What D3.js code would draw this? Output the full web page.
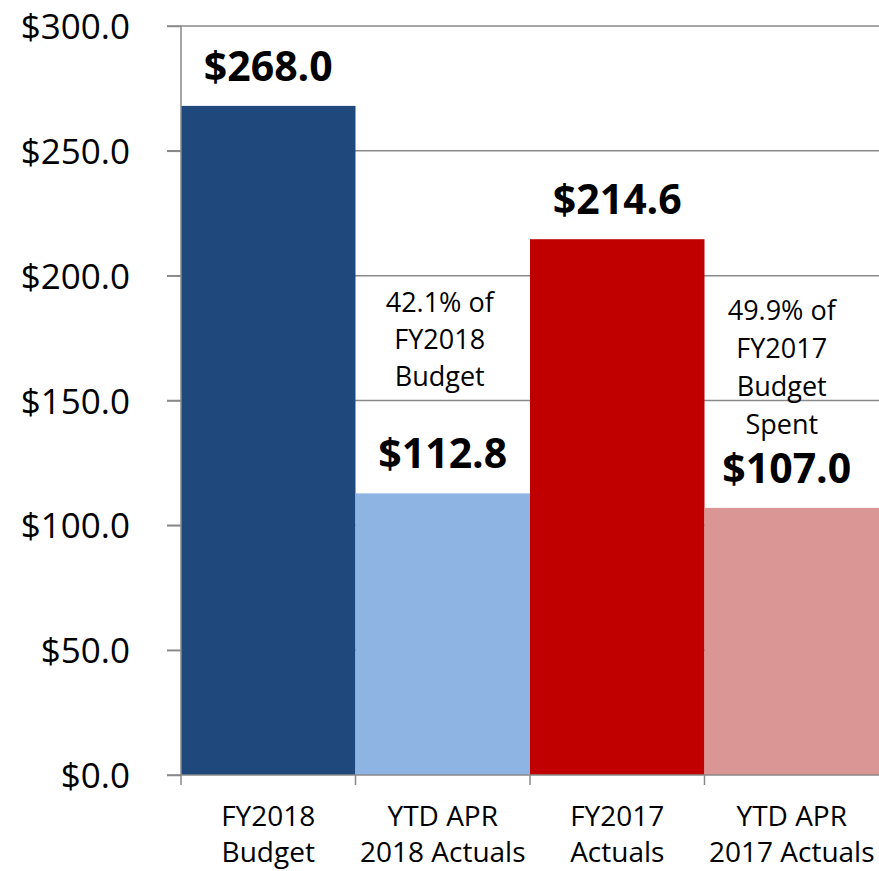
<!DOCTYPE html>
<html>
<head>
<meta charset="utf-8">
<script src="https://cdn.jsdelivr.net/npm/d3@7"></script>
<style>
  body { margin: 0; background: #fff; }
  text { font-family: "Open Sans", "Noto Sans", sans-serif; fill: #000; }
</style>
</head>
<body>
<div id="chart"></div>
<script>
// chart data
var categories = ["FY2018 Budget", "YTD APR 2018 Actuals", "FY2017 Actuals", "YTD APR 2017 Actuals"];
var categoryLines = [["FY2018", "Budget"], ["YTD APR", "2018 Actuals"], ["FY2017", "Actuals"], ["YTD APR", "2017 Actuals"]];
var values = [268.0, 112.8, 214.6, 107.0];
var barColors = ["#1f497d", "#8eb4e3", "#c00000", "#d99694"];
var yTicks = [0, 50, 100, 150, 200, 250, 300];
var noteCategories = ["YTD APR 2018 Actuals", "YTD APR 2017 Actuals"];
var noteLines = [["42.1% of", "FY2018", "Budget"], ["49.9% of", "FY2017", "Budget", "Spent"]];

(function() {

    var W = 879, H = 871;
    var margin = { top: 26, right: 0, bottom: 96, left: 181 };

    var svg = d3.select("#chart")
        .append("svg")
        .attr("width", W)
        .attr("height", H);

    var x = d3.scaleBand()
        .domain(categories)
        .range([margin.left, W - margin.right])
        .padding(0);

    var y = d3.scaleLinear()
        .domain([0, 300])
        .range([H - margin.bottom, margin.top]);

    var money = function(v) { return "$" + d3.format(".1f")(v); };
    var gridColor = "#898989";

    // gridlines (behind bars)
    svg.append("g")
        .selectAll("line")
        .data(yTicks.filter(function(d) { return d > 0; }))
        .enter().append("line")
        .attr("x1", margin.left - 14)
        .attr("x2", W)
        .attr("y1", function(d) { return y(d); })
        .attr("y2", function(d) { return y(d); })
        .attr("stroke", gridColor)
        .attr("stroke-width", 1.5);

    // bars
    svg.append("g")
        .selectAll("rect")
        .data(values)
        .enter().append("rect")
        .attr("x", function(d, i) { return x(categories[i]); })
        .attr("y", function(d) { return y(d); })
        .attr("width", x.bandwidth())
        .attr("height", function(d) { return y(0) - y(d); })
        .attr("fill", function(d, i) { return barColors[i]; });

    // y axis
    var yAxis = svg.append("g")
        .attr("transform", "translate(" + margin.left + ",0)")
        .call(d3.axisLeft(y).tickValues(yTicks).tickSize(14).tickPadding(37)
            .tickFormat(money));
    yAxis.select(".domain").remove();
    yAxis.selectAll(".tick line").attr("stroke", gridColor).attr("stroke-width", 1.5);
    yAxis.selectAll(".tick text")
        .style("font-family", "'Open Sans', sans-serif")
        .style("font-size", "35px")
        .attr("fill", "#000")
        .attr("dy", "0.36em");
    yAxis.append("line")
        .attr("x1", 0).attr("x2", 0)
        .attr("y1", y(300)).attr("y2", y(0))
        .attr("stroke", gridColor).attr("stroke-width", 1.5);

    // x axis
    var xAxis = svg.append("g")
        .attr("transform", "translate(0," + y(0) + ")")
        .call(d3.axisBottom(x).tickSize(0).tickFormat(""));
    xAxis.select(".domain").remove();
    xAxis.append("line")
        .attr("x1", margin.left - 14).attr("x2", W)
        .attr("stroke", gridColor).attr("stroke-width", 1.5);
    xAxis.selectAll(".sep")
        .data(categories)
        .enter().append("line")
        .attr("class", "sep")
        .attr("x1", function(d) { return x(d); })
        .attr("x2", function(d) { return x(d); })
        .attr("y1", 0).attr("y2", 10)
        .attr("stroke", gridColor).attr("stroke-width", 1.5);

    // category labels
    svg.append("g")
        .selectAll("text")
        .data(categories)
        .enter().append("text")
        .attr("text-anchor", "middle")
        .style("font-size", "28px")
        .each(function(d, i) {
            var t = d3.select(this);
            categoryLines[i].forEach(function(line, j) {
                t.append("tspan")
                    .attr("x", x(d) + x.bandwidth() / 2)
                    .attr("y", y(0) + 51 + j * 36)
                    .text(line);
            });
        });

    // value labels
    svg.append("g")
        .selectAll("text")
        .data(values)
        .enter().append("text")
        .attr("text-anchor", "middle")
        .attr("x", function(d, i) { return x(categories[i]) + x.bandwidth() / 2 - (i == 3 ? 5 : 0); })
        .attr("y", function(d) { return y(d) - 25; })
        .style("font-size", "41px")
        .style("font-weight", "bold")
        .text(money);

    // notes
    var noteTop = [312, 320], noteDx = [-3, -10], noteGap = [37, 38];
    svg.append("g")
        .selectAll("text")
        .data(noteCategories)
        .enter().append("text")
        .attr("text-anchor", "middle")
        .style("font-size", "27px")
        .each(function(d, i) {
            var t = d3.select(this);
            noteLines[i].forEach(function(line, j) {
                t.append("tspan")
                    .attr("x", x(d) + x.bandwidth() / 2 + noteDx[i])
                    .attr("y", noteTop[i] + j * noteGap[i])
                    .text(line);
            });
        });

})();
</script>
</body>
</html>
